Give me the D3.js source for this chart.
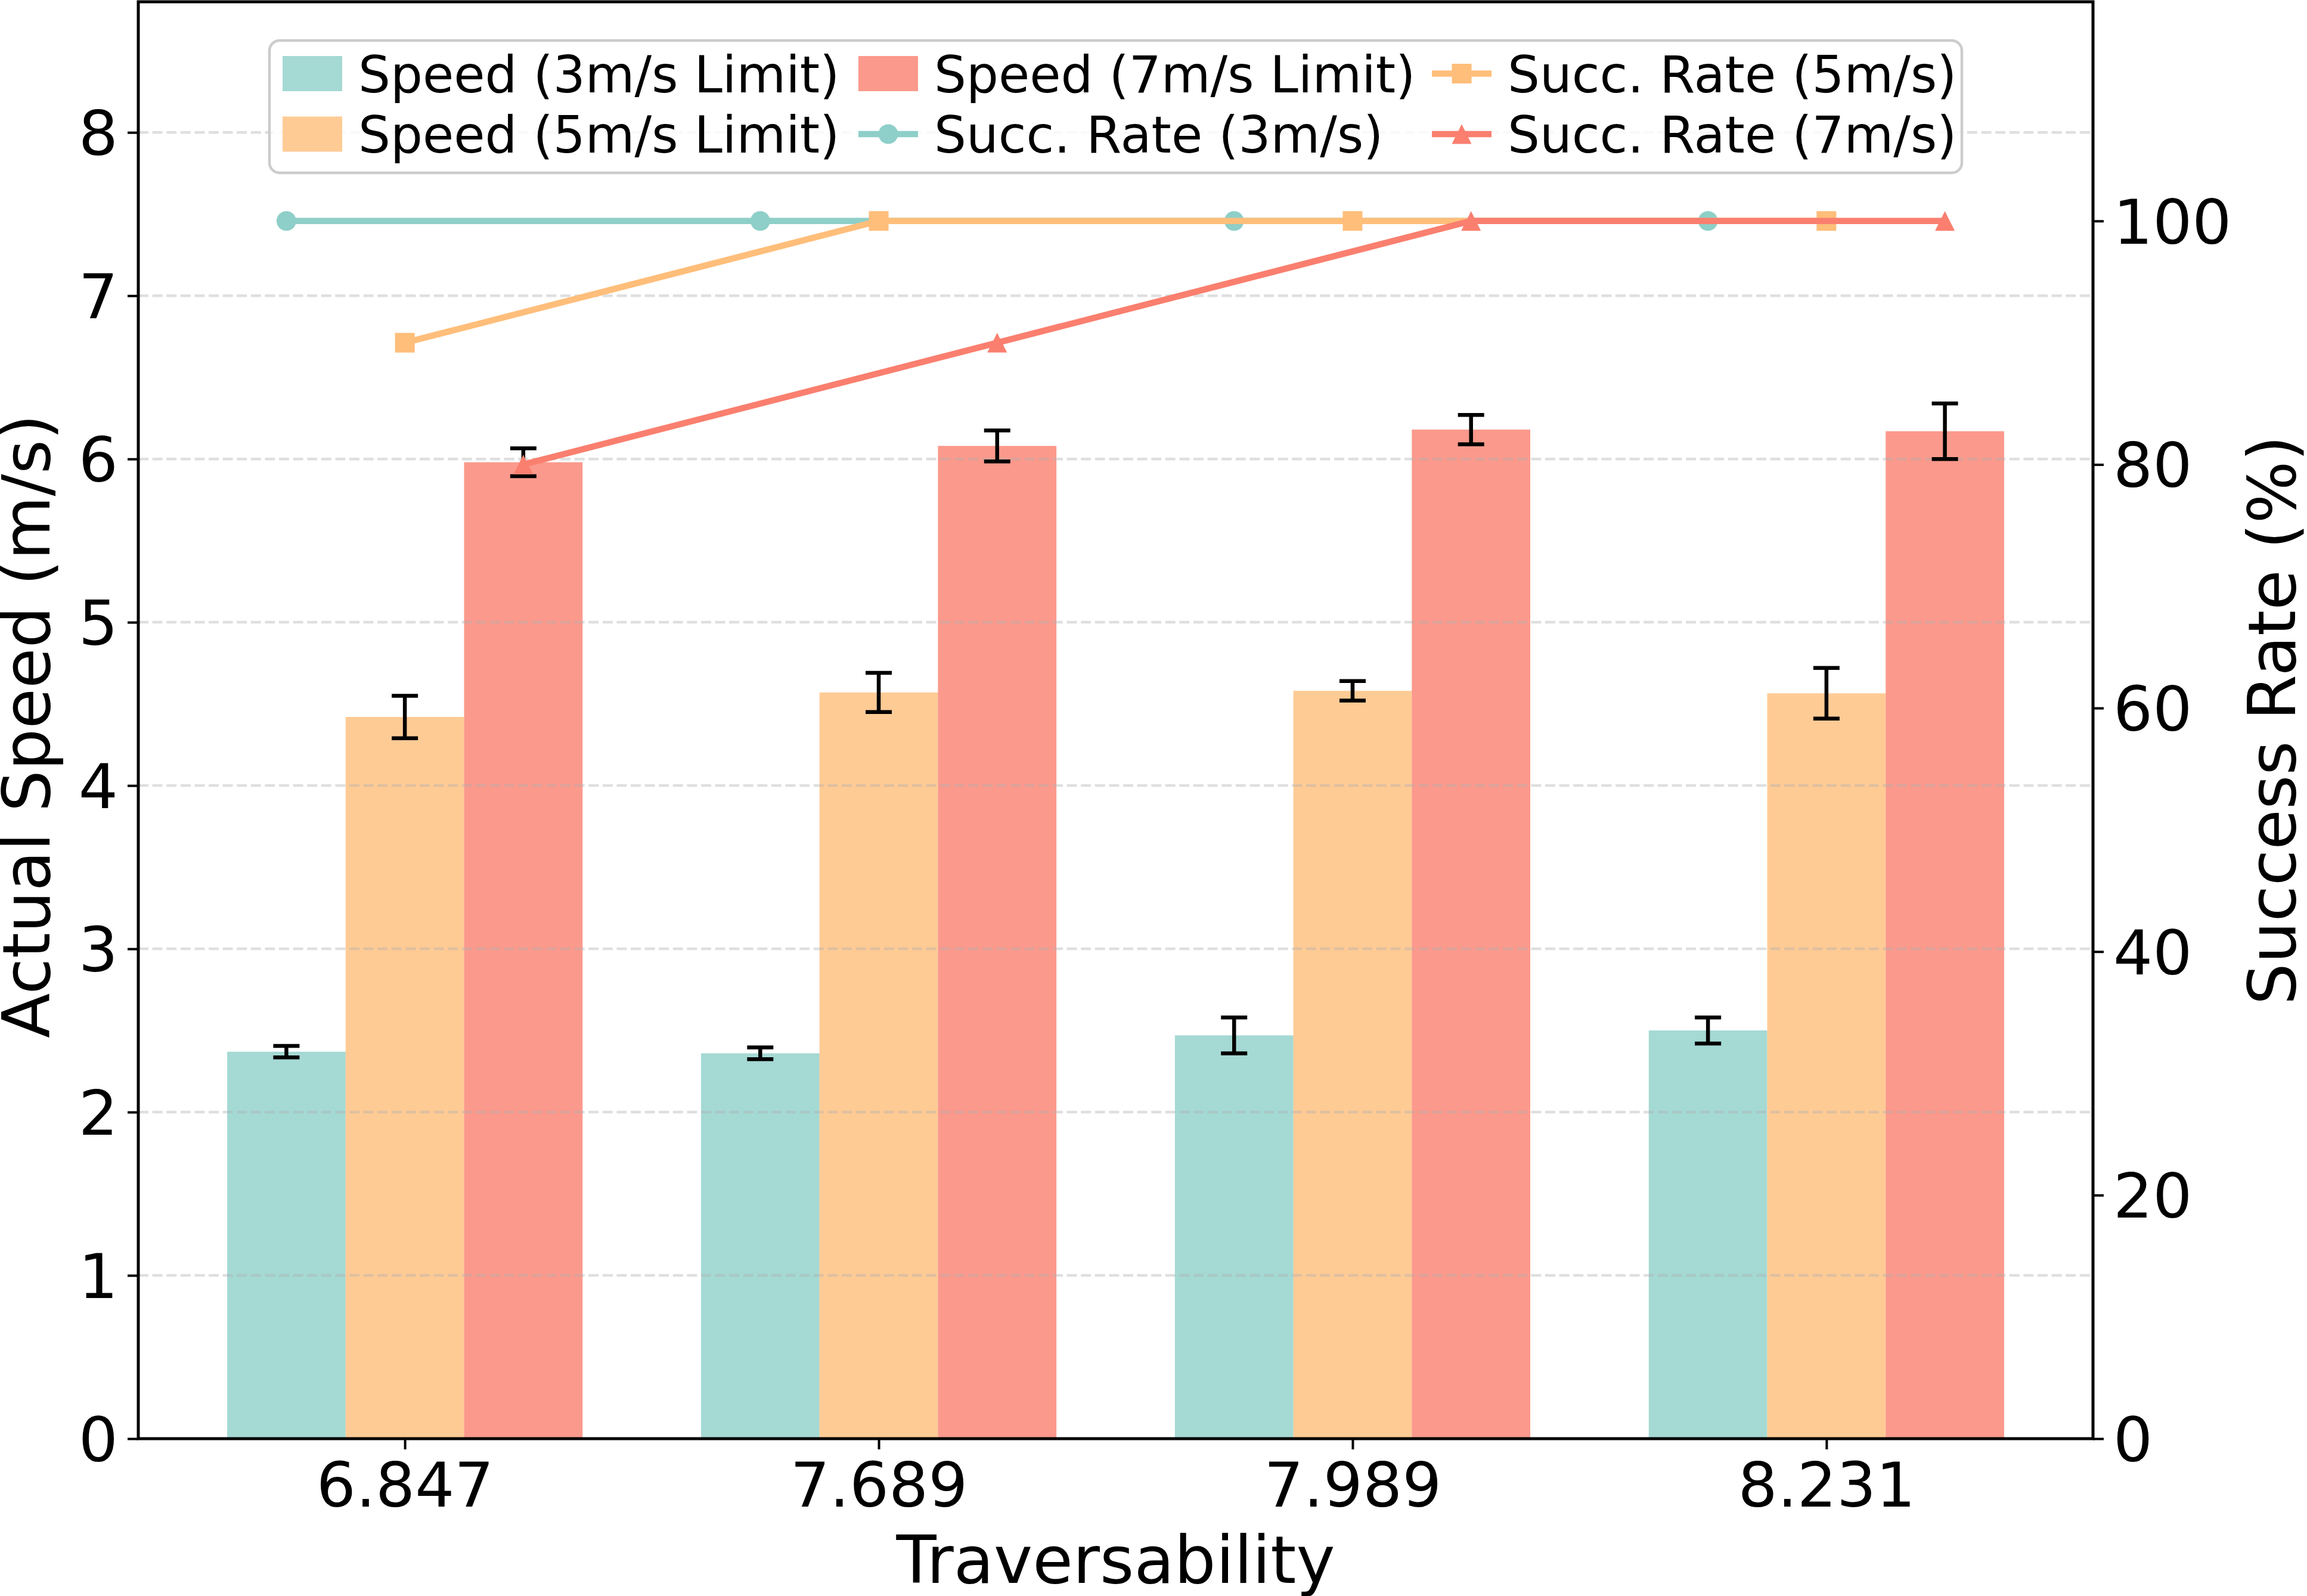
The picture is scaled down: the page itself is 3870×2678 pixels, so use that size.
<!DOCTYPE html>
<html>
<head>
<meta charset="utf-8">
<script src="https://cdn.jsdelivr.net/npm/d3@7"></script>
<style>
  body { margin: 0; background: #fff; }
  svg text { font-family: "DejaVu Sans", sans-serif; fill: #000; }
</style>
</head>
<body>
<script>
// categories (traversability) and measured values
var categories = ["6.847", "7.689", "7.989", "8.231"];

var speed3 = [2.37, 2.36, 2.47, 2.50],
    err3   = [0.035, 0.036, 0.11, 0.08];
var speed5 = [4.42, 4.57, 4.58, 4.565],
    err5   = [0.13, 0.12, 0.06, 0.155];
var speed7 = [5.98, 6.08, 6.18, 6.17],
    err7   = [0.085, 0.095, 0.09, 0.17];

var succ3 = [100, 100, 100, 100],
    succ5 = [90, 100, 100, 100],
    succ7 = [80, 90, 100, 100];

var leftTicks = [0, 1, 2, 3, 4, 5, 6, 7, 8],
    rightTicks = [0, 20, 40, 60, 80, 100];

var W = 3870, H = 2678;
var plotL = 232, plotR = 3511, plotT = 3, plotB = 2414;

var teal = "#8ECFC9", orange = "#FFBE7A", red = "#FA7F6F";

var barSeries = [
  { name: "Speed (3m/s Limit)", vals: speed3, err: err3, color: teal, off: -1 },
  { name: "Speed (5m/s Limit)", vals: speed5, err: err5, color: orange, off: 0 },
  { name: "Speed (7m/s Limit)", vals: speed7, err: err7, color: red, off: 1 }
];
var lineSeries = [
  { name: "Succ. Rate (3m/s)", vals: succ3, color: teal, off: -1, marker: "circle" },
  { name: "Succ. Rate (5m/s)", vals: succ5, color: orange, off: 0, marker: "square" },
  { name: "Succ. Rate (7m/s)", vals: succ7, color: red, off: 1, marker: "triangle" }
];

var svg = d3.select("body").append("svg")
    .attr("width", W)
    .attr("height", H);

var x = d3.scalePoint()
    .domain(categories)
    .range([plotL, plotR])
    .padding(0.5625);
var step = x.step(),
    bw = step * 0.25;

var y = d3.scaleLinear().domain([0, 8.8]).range([plotB, plotT]);
var y2 = d3.scaleLinear().domain([0, 118]).range([plotB, plotT]);

// bars
barSeries.forEach(function(s) {
  svg.append("g").selectAll("rect")
    .data(s.vals)
    .enter().append("rect")
      .attr("x", function(d, i) { return x(categories[i]) + s.off * bw - bw / 2; })
      .attr("y", function(d) { return y(d); })
      .attr("width", bw)
      .attr("height", function(d) { return y(0) - y(d); })
      .attr("fill", s.color)
      .attr("fill-opacity", 0.8);
});

// grid (drawn over bars, like the original)
svg.append("g").selectAll("line")
  .data(leftTicks.slice(1))
  .enter().append("line")
    .attr("x1", plotL).attr("x2", plotR)
    .attr("y1", function(d) { return y(d); })
    .attr("y2", function(d) { return y(d); })
    .attr("stroke", "#b0b0b0")
    .attr("stroke-opacity", 0.4)
    .attr("stroke-width", 4.5)
    .attr("stroke-dasharray", "17,6.6");

// error bars
barSeries.forEach(function(s) {
  var g = svg.append("g").attr("stroke", "#000").attr("stroke-width", 6.5);
  s.vals.forEach(function(d, i) {
    var cx = x(categories[i]) + s.off * bw;
    g.append("line").attr("x1", cx).attr("x2", cx)
      .attr("y1", y(d - s.err[i])).attr("y2", y(d + s.err[i]));
    g.append("line").attr("x1", cx - 22).attr("x2", cx + 22)
      .attr("y1", y(d - s.err[i])).attr("y2", y(d - s.err[i]));
    g.append("line").attr("x1", cx - 22).attr("x2", cx + 22)
      .attr("y1", y(d + s.err[i])).attr("y2", y(d + s.err[i]));
  });
});

function drawMarker(g, type, cx, cy, color) {
  var r = 16.5;
  if (type == "circle") {
    g.append("circle").attr("cx", cx).attr("cy", cy).attr("r", r).attr("fill", color);
  } else if (type == "square") {
    g.append("rect").attr("x", cx - r).attr("y", cy - r)
      .attr("width", 2 * r).attr("height", 2 * r).attr("fill", color);
  } else {
    g.append("path")
      .attr("d", "M" + cx + "," + (cy - r) + "L" + (cx - r) + "," + (cy + r) + "L" + (cx + r) + "," + (cy + r) + "Z")
      .attr("fill", color);
  }
}

// success rate lines
lineSeries.forEach(function(s) {
  var line = d3.line()
    .x(function(d, i) { return x(categories[i]) + s.off * bw; })
    .y(function(d) { return y2(d); });
  var g = svg.append("g");
  g.append("path")
    .datum(s.vals)
    .attr("d", line)
    .attr("fill", "none")
    .attr("stroke", s.color)
    .attr("stroke-width", 10.5);
  s.vals.forEach(function(d, i) {
    drawMarker(g, s.marker, x(categories[i]) + s.off * bw, y2(d), s.color);
  });
});

// axes
var fs = 104;
var ax = svg.append("g")
    .attr("transform", "translate(0," + plotB + ")")
    .call(d3.axisBottom(x).tickSize(18).tickPadding(22));
var ayl = svg.append("g")
    .attr("transform", "translate(" + plotL + ",0)")
    .call(d3.axisLeft(y).tickValues(leftTicks).tickFormat(d3.format("d")).tickSize(18).tickPadding(16));
var ayr = svg.append("g")
    .attr("transform", "translate(" + plotR + ",0)")
    .call(d3.axisRight(y2).tickValues(rightTicks).tickFormat(d3.format("d")).tickSize(18).tickPadding(16));

[ax, ayl, ayr].forEach(function(a) {
  a.select(".domain").remove();
  a.selectAll(".tick line").attr("stroke", "#000").attr("stroke-width", 4);
  a.selectAll(".tick text").attr("font-size", fs).style("font-family", "DejaVu Sans");
});
ayl.selectAll(".tick text").attr("dy", "0.36em");
ayr.selectAll(".tick text").attr("dy", "0.36em");

// frame
svg.append("rect")
    .attr("x", plotL).attr("y", plotT)
    .attr("width", plotR - plotL).attr("height", plotB - plotT)
    .attr("fill", "none")
    .attr("stroke", "#000")
    .attr("stroke-width", 5);

// axis titles
svg.append("text")
    .attr("x", (plotL + plotR) / 2).attr("y", 2656)
    .attr("text-anchor", "middle")
    .attr("font-size", 110)
    .text("Traversability");
svg.append("text")
    .attr("transform", "translate(83," + ((plotT + plotB) / 2 + 10) + ") rotate(-90)")
    .attr("text-anchor", "middle")
    .attr("font-size", 110)
    .text("Actual Speed (m/s)");
svg.append("text")
    .attr("transform", "translate(3850," + ((plotT + plotB) / 2) + ") rotate(-90)")
    .attr("text-anchor", "middle")
    .attr("font-size", 110)
    .text("Success Rate (%)");

// legend (3 columns, filled column by column)
var legend = svg.append("g");
legend.append("rect")
    .attr("x", 452).attr("y", 68)
    .attr("width", 3291 - 452).attr("height", 290 - 68)
    .attr("rx", 17).attr("ry", 17)
    .attr("fill", "#fff").attr("fill-opacity", 0.8)
    .attr("stroke", "#cccccc").attr("stroke-width", 4.5);

var items = barSeries.map(function(s) { return { s: s, kind: "bar" }; })
  .concat(lineSeries.map(function(s) { return { s: s, kind: "line" }; }));
var colX = [474, 1440, 2402],
    rowY = [123.5, 225];

items.forEach(function(it, k) {
  var c = Math.floor(k / 2), r = k % 2;
  var hx = colX[c], cy = rowY[r];
  if (it.kind == "bar") {
    legend.append("rect")
      .attr("x", hx).attr("y", cy - 29.5)
      .attr("width", 100).attr("height", 59)
      .attr("fill", it.s.color).attr("fill-opacity", 0.8);
  } else {
    legend.append("line")
      .attr("x1", hx).attr("x2", hx + 100)
      .attr("y1", cy).attr("y2", cy)
      .attr("stroke", it.s.color).attr("stroke-width", 10.5);
    drawMarker(legend, it.s.marker, hx + 50, cy, it.s.color);
  }
  legend.append("text")
    .attr("x", hx + 127).attr("y", cy + 31)
    .attr("font-size", 85)
    .text(it.s.name);
});
</script>
</body>
</html>
